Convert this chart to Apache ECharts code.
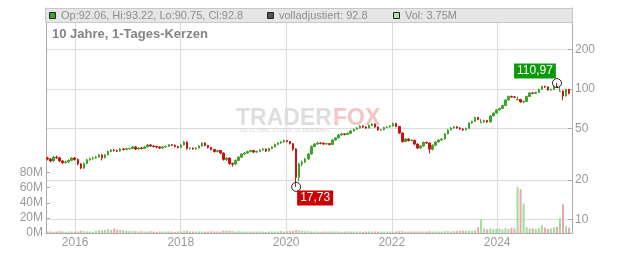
<!DOCTYPE html>
<html><head><meta charset="utf-8">
<script src="https://cdn.jsdelivr.net/npm/echarts@6/dist/echarts.min.js"></script>
<style>html,body{margin:0;padding:0;background:#fff}#c{width:632px;height:253px}</style>
</head><body><div id="c"></div>
<script>
// ---- data (3-week candles) ----
const opens = [
29.5,29.0,28.0,30.0,29.7,28.0,27.2,27.5,28.3,29.5,
28.8,26.6,24.7,26.8,28.6,29.2,29.6,30.0,31.2,29.7,
31.2,33.1,34.0,33.7,33.4,34.6,34.3,34.8,34.9,35.9,
34.6,35.2,35.0,35.9,37.2,36.5,36.2,35.9,35.2,35.9,
36.2,37.2,37.0,36.2,35.6,37.2,39.2,34.9,35.1,34.7,
35.2,36.5,38.5,36.9,35.6,34.3,33.1,33.7,32.2,28.8,
29.5,26.8,26.5,28.3,30.0,31.7,32.2,33.1,33.7,32.8,
33.1,34.0,34.6,33.4,34.9,35.9,37.5,38.5,39.2,40.2,
39.5,38.1,34.6,21.0,26.6,27.5,29.0,31.7,36.2,37.8,
38.5,38.3,37.8,38.1,37.5,40.6,42.1,44.4,45.2,44.8,
45.6,47.6,49.0,50.2,52.0,51.1,50.2,52.5,53.9,51.1,
48.5,48.7,50.7,51.1,52.0,54.4,51.5,45.9,39.5,41.3,
40.2,40.4,37.8,35.2,36.5,38.9,38.5,34.5,37.0,39.2,
40.6,41.3,45.2,48.5,50.2,51.1,50.2,49.3,48.5,49.8,
54.8,56.3,60.4,55.2,55.8,57.3,55.8,62.1,65.4,69.0,
70.8,74.7,82.4,87.6,86.8,82.5,83.1,79.5,80.2,87.6,
93.2,92.6,94.0,99.1,104.5,103.6,98.2,99.1,104.5,95.8,
96.5,88.4,99.1];
const closes = [
29.0,28.0,30.0,29.7,28.0,27.2,27.5,28.3,29.5,28.8,
26.6,24.7,26.8,28.6,29.2,29.6,30.0,31.2,29.7,31.2,
33.1,34.0,33.7,33.4,34.6,34.3,34.8,34.9,35.9,34.6,
35.2,35.0,35.9,37.2,36.5,36.2,35.9,35.2,35.9,36.2,
37.2,37.0,36.2,35.6,37.2,39.2,34.9,35.1,34.7,35.2,
36.5,38.5,36.9,35.6,34.3,33.1,33.7,32.2,28.8,29.5,
26.8,26.5,28.3,30.0,31.7,32.2,33.1,33.7,32.8,33.1,
34.0,34.6,33.4,34.9,35.9,37.5,38.5,39.2,40.2,39.5,
38.1,34.6,21.0,26.6,27.5,29.0,31.7,36.2,37.8,38.5,
38.3,37.8,38.1,37.5,40.6,42.1,44.4,45.2,44.8,45.6,
47.6,49.0,50.2,52.0,51.1,50.2,52.5,53.9,51.1,48.5,
48.7,50.7,51.1,52.0,54.4,51.5,45.9,39.5,41.3,40.2,
40.4,37.8,35.2,36.5,38.9,38.5,34.5,37.0,39.2,40.6,
41.3,45.2,48.5,50.2,51.1,50.2,49.3,48.5,49.8,54.8,
56.3,60.4,58.3,55.8,57.3,55.8,62.1,65.4,69.0,70.8,
74.7,82.4,87.6,86.8,86.5,83.1,79.5,80.2,87.6,93.2,
92.6,94.0,99.1,104.5,103.6,98.2,99.1,104.5,103.6,96.5,
88.4,99.1,92.8];
const lows = [
28.3,27.3,27.6,29.0,27.5,26.6,26.8,27.0,27.9,28.2,
26.0,24.2,24.3,26.4,28.1,28.6,29.1,29.6,28.3,29.3,
30.9,32.7,33.1,32.8,33.0,33.7,33.9,34.1,34.5,34.0,
34.1,34.4,34.6,35.5,35.9,35.6,35.2,34.6,34.8,35.4,
35.8,36.4,35.6,35.0,35.2,36.8,34.2,34.3,34.1,34.2,
34.9,36.1,36.3,35.0,33.7,32.5,32.6,31.6,28.2,28.0,
26.2,25.4,26.1,27.9,29.6,31.1,31.8,32.6,32.2,32.3,
32.7,33.5,32.8,33.0,34.5,35.5,37.0,38.0,38.7,38.8,
37.5,33.5,17.73,19.6,25.4,27.0,28.6,31.3,35.7,37.2,
37.6,37.1,37.2,36.8,37.1,40.1,41.6,43.8,44.0,44.2,
45.1,47.0,48.4,49.7,50.2,49.4,49.8,52.0,50.4,47.8,
47.6,48.2,50.0,50.5,51.5,50.8,45.2,38.8,39.0,39.5,
39.6,37.1,34.6,34.8,36.0,37.8,32.0,33.8,36.6,38.7,
40.0,40.9,44.8,48.0,49.6,49.5,48.6,47.8,48.0,49.4,
54.2,55.8,57.5,54.6,55.1,55.0,55.3,61.5,64.8,68.2,
70.1,74.0,81.6,85.6,85.2,81.8,78.3,77.8,79.4,86.8,
91.2,91.8,93.1,98.2,101.9,96.8,96.9,98.3,101.8,95.0,
82.0,87.6,90.75];
const highs = [
30.2,29.6,30.6,30.8,30.1,28.5,28.2,28.9,30.0,30.1,
29.2,27.0,27.3,29.1,29.8,30.2,30.7,31.8,31.6,31.7,
33.7,34.6,34.6,34.2,35.2,35.1,35.4,35.5,36.6,36.3,
35.8,35.9,36.5,37.8,37.7,37.1,36.7,36.3,36.4,36.8,
37.8,37.9,37.4,36.6,37.8,39.9,39.6,35.7,35.6,35.8,
37.1,39.0,38.9,37.3,36.0,34.7,34.2,34.0,32.6,30.1,
29.8,27.3,28.8,30.5,32.2,32.8,33.6,34.2,34.1,33.7,
34.5,35.1,34.9,35.4,36.4,38.1,39.1,39.9,40.8,40.7,
39.9,38.5,35.0,27.2,28.2,29.6,32.3,36.9,38.5,39.2,
39.1,38.8,38.7,38.6,41.2,42.8,45.1,45.9,45.8,46.3,
48.3,49.7,51.0,52.8,52.6,51.7,53.2,54.7,54.3,51.5,
49.4,51.4,51.9,52.8,55.2,54.9,51.9,46.3,42.0,41.8,
41.1,40.8,38.2,37.1,39.5,39.4,38.9,37.6,39.8,41.2,
42.0,45.9,49.2,51.0,51.9,51.8,50.8,49.9,50.5,55.6,
57.1,61.3,61.0,58.8,58.1,58.0,63.0,66.3,70.0,71.9,
75.8,83.6,88.9,89.0,88.2,87.3,83.9,81.5,88.9,94.6,
94.5,95.4,100.6,106.0,105.9,104.4,100.7,106.1,110.97,104.4,
97.4,100.6,100.2];
const volumesM = [
2,2,1.5,2,2.5,2,1.5,2,2,1.5,
2,3,2.5,2,2,1.5,3,4,3.5,4,
5,4,6,4.5,4,3.5,3,3,2.5,2.5,
2,2.5,2,2,2.5,2,1.5,2,2,2,
2,2,1.5,2,2,2.5,3,2,2,2,
2,2,2,2,2.5,2,2,2,3,3,
3,2.5,2,2.5,2,2,2,2,2,2,
2,2,1.5,2,2,2,2,2.5,2,2,
2.5,3,4,3.5,3,2.5,2.5,2,2,2,
1.5,2,2,2,2,2,2,1.5,2,2,
2,2,2,2,1.5,2,2,2,2,2,
2,2,2,2,1.5,2,2.5,2.5,2,2,
2,2,2,2,2,2,2.5,2,2,2,
2,2.5,2.5,2,2.5,2.5,3,3,3,3,
3,3.5,7.5,18,6,5,6,5,5.5,6,
5,6.5,5,7,6,61,58,39,8,6,
6,5,6.5,10.5,7,5.5,6,7.5,8,19.5,
38,9,7];
const yearTicks = ['2016-01-01','2018-01-01','2020-01-01','2022-01-01','2024-01-01'];
const priceTicks = [10, 20, 50, 100, 200];
const volumeTicks = [0, 20, 40, 60, 80];
const lowMark = { index: 82, value: 17.73 };
const highMark = { index: 168, value: 110.97 };
const headerOHLC = 'Op:92.06, Hi:93.22, Lo:90.75, Cl:92.8';
const headerAdj = 'volladjustiert: 92.8';
const headerVol = 'Vol: 3.75M';
const titleText = '10 Jahre, 1-Tages-Kerzen';

// ---- chart ----
const FONT = '"Liberation Sans", Arial, sans-serif';
const DAY = 86400000;
const firstPeriod = Date.UTC(2015, 5, 23);
const periodDays = 21;
const dates = closes.map((_, i) => firstPeriod + i * periodDays * DAY);
const candleData = closes.map((c, i) => [dates[i], opens[i], c, lows[i], highs[i]]);
const volData = volumesM.map((v, i) => ({
  value: [dates[i], v],
  itemStyle: { color: closes[i] >= opens[i] ? '#a3da9b' : '#eda4ac' }
}));
const yearVals = yearTicks.map(s => Date.parse(s + 'T00:00:00Z'));
const fmt = v => String(v).replace('.', ',');

const chart = echarts.init(document.getElementById('c'), null, { renderer: 'canvas' });
chart.setOption({
  animation: false,
  textStyle: { fontFamily: FONT },
  grid: { left: 46, right: 60, top: 8, bottom: 20 },
  xAxis: {
    type: 'value',
    min: Date.UTC(2015, 5, 13), max: Date.UTC(2025, 5, 2),
    axisLine: { show: true, onZero: false, lineStyle: { color: '#aaa' } },
    axisTick: { show: false, customValues: yearVals },
    axisLabel: { customValues: yearVals, formatter: v => String(new Date(v).getUTCFullYear()),
      color: '#999', fontSize: 12, margin: 4, fontFamily: FONT },
    splitLine: { show: true, lineStyle: { color: '#dcdcdc' } }
  },
  yAxis: [{
    type: 'log', position: 'right', min: 7.85, max: 418,
    axisLine: { show: true, lineStyle: { color: '#aaa' } },
    axisTick: { show: true, inside: true, length: 4, customValues: priceTicks, lineStyle: { color: '#aaa' } },
    axisLabel: { customValues: priceTicks, color: '#999', fontSize: 12, margin: 3, fontFamily: FONT },
    splitLine: { show: true, lineStyle: { color: '#dcdcdc' } }
  }, {
    type: 'value', position: 'left', min: 0, max: 298,
    axisLine: { show: true, onZero: false, lineStyle: { color: '#aaa' } },
    axisTick: { show: true, inside: true, length: 4, customValues: volumeTicks, lineStyle: { color: '#aaa' } },
    axisLabel: { customValues: volumeTicks, formatter: v => v + 'M', color: '#999', fontSize: 12, margin: 3, fontFamily: FONT },
    splitLine: { show: false }
  }],
  graphic: [
    { type: 'text', x: 236, y: 107, z: 0, silent: true,
      style: { text: 'TRADER', font: 'bold 23px ' + FONT, fill: '#dedede' } },
    { type: 'text', x: 333, y: 107, z: 0, silent: true,
      style: { text: 'FOX', font: 'bold 23px ' + FONT, fill: '#f6c4c4' } },
    { type: 'text', x: 240, y: 127, z: 0, silent: true,
      style: { text: 'REALTIME STOCK SCREENING', font: 'bold 6px ' + FONT, fill: '#e2e2e2' } },
    { type: 'rect', z: 50, silent: true, shape: { x: 45.5, y: 8.5, width: 527, height: 14 },
      style: { fill: '#e6e6e6', stroke: '#c8c8c8', lineWidth: 1 } },
    { type: 'rect', z: 51, shape: { x: 49.5, y: 12.5, width: 6, height: 6 },
      style: { fill: '#3fa42a', stroke: '#222', lineWidth: 1 } },
    { type: 'text', z: 51, x: 61, y: 16, style: { text: headerOHLC, font: '11px ' + FONT, fill: '#8e8e8e', verticalAlign: 'middle' } },
    { type: 'rect', z: 51, shape: { x: 267.5, y: 12.5, width: 6, height: 6 },
      style: { fill: '#555', stroke: '#222', lineWidth: 1 } },
    { type: 'text', z: 51, x: 279, y: 16, style: { text: headerAdj, font: '11px ' + FONT, fill: '#8e8e8e', verticalAlign: 'middle' } },
    { type: 'rect', z: 51, shape: { x: 393.5, y: 12.5, width: 6, height: 6 },
      style: { fill: '#b3e0ad', stroke: '#222', lineWidth: 1 } },
    { type: 'text', z: 51, x: 405, y: 16, style: { text: headerVol, font: '11px ' + FONT, fill: '#8e8e8e', verticalAlign: 'middle' } },
    { type: 'text', z: 51, x: 52, y: 34, style: { text: titleText, font: 'bold 13px ' + FONT, fill: '#848484', verticalAlign: 'middle' } }
  ],
  series: [{
    type: 'bar', xAxisIndex: 0, yAxisIndex: 1, data: volData, barWidth: 2, z: 1
  }, {
    type: 'candlestick', xAxisIndex: 0, yAxisIndex: 0, data: candleData,
    encode: { x: 0, y: [1, 2, 3, 4] },
    barWidth: 2,
    itemStyle: { color: '#3fa42a', color0: '#cc1111', borderColor: '#3fa42a', borderColor0: '#cc1111', borderWidth: 1 },
    markPoint: {
      symbol: 'circle', symbolSize: 9,
      itemStyle: { color: 'rgba(0,0,0,0)', borderColor: '#222', borderWidth: 1 },
      data: [
        { coord: [dates[lowMark.index], lowMark.value],
          label: { show: true, formatter: fmt(lowMark.value), position: 'inside', offset: [19, 11],
            backgroundColor: '#cc0000', color: '#fff', padding: [2, 3, 1, 3], fontSize: 12, fontFamily: FONT } },
        { coord: [dates[highMark.index], highMark.value],
          label: { show: true, formatter: fmt(highMark.value), position: 'inside', offset: [-22, -12],
            backgroundColor: '#0a9a0a', color: '#fff', padding: [2, 3, 1, 3], fontSize: 12, fontFamily: FONT } }
      ]
    }
  }]
});
</script></body></html>
